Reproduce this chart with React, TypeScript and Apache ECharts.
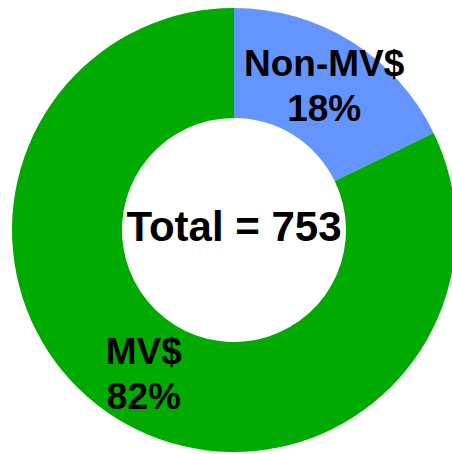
import React, { useEffect, useRef } from "react";
import * as echarts from "echarts";

const categories = ["Non-MV$", "MV$"];
const values = [134, 619];
const colors = ["#6495FF", "#00AA00"];
const totalLabel = "Total = 753";

export default function App() {
  const ref = useRef<HTMLDivElement>(null);
  useEffect(() => {
    if (!ref.current) return;
    const chart = echarts.init(ref.current, null, { renderer: "svg" });
    const font = "'Liberation Sans', Arial, sans-serif";
    chart.setOption({
      animation: false,
      backgroundColor: "#ffffff",
      graphic: [
        {
          type: "text",
          x: 234,
          y: 226,
          style: {
            text: totalLabel,
            fontSize: 42,
            fontWeight: "bold",
            fontFamily: font,
            fill: "#000",
            textAlign: "center",
            textVerticalAlign: "middle",
          },
          z: 100,
        },
      ],
      series: [
        {
          type: "pie",
          center: [234, 230],
          radius: [112, 222],
          startAngle: 90,
          clockwise: true,
          avoidLabelOverlap: false,
          itemStyle: { borderWidth: 0 },
          emphasis: { disabled: true },
          label: {
            show: true,
            position: "inside",
            formatter: (p: any) => `${p.name}\n${Math.round(p.percent)}%`,
            fontSize: 37,
            lineHeight: 45,
            fontWeight: "bold",
            fontFamily: font,
            color: "#000",
            align: "center",
          },
          labelLine: { show: false },
          data: categories.map((c, i) => ({
            name: c,
            value: values[i],
            itemStyle: { color: colors[i] },
          })),
        },
      ],
    });
    return () => chart.dispose();
  }, []);
  return (
    <div
      ref={ref}
      style={{ position: "fixed", left: 0, top: 0, width: 452, height: 454 }}
    />
  );
}
